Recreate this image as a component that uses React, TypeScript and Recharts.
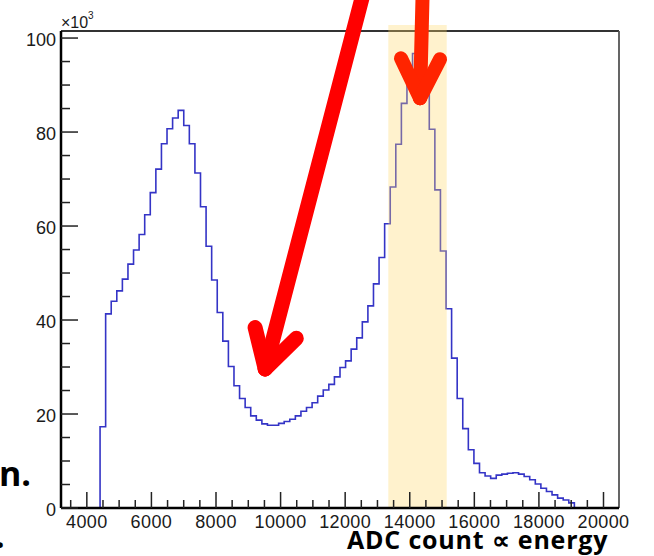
import { ComposedChart, Line, XAxis, YAxis, ReferenceArea, ReferenceLine } from "recharts";

// histogram binning (ADC counts)
const X_MIN = 3200;
const X_MAX = 20480;
const N_BINS = 100;
const FIRST_BIN = 7;
const Y_MAX = 101.5; // x10^3

// bin contents in units of 10^3, first entry is bin FIRST_BIN
const counts = [
  17.3, 41.3, 44.0, 46.2, 48.7, 51.9, 54.9, 58.2, 62.4, 67.1,
  72.1, 77.5, 80.7, 83.0, 84.6, 81.4, 77.5, 71.3, 64.1, 55.7,
  48.5, 41.6, 35.5, 30.1, 26.0, 23.3, 21.4, 19.6, 18.7, 17.9,
  17.6, 17.6, 18.0, 18.4, 18.9, 19.6, 20.6, 21.4, 22.4, 23.8,
  25.1, 26.3, 27.9, 29.9, 31.3, 33.8, 36.2, 39.6, 43.0, 47.7,
  53.3, 60.5, 68.3, 77.4, 86.1, 90.5, 96.7, 95.0, 91.0, 80.6,
  67.7, 54.7, 42.4, 31.9, 23.3, 16.9, 12.4, 9.5, 7.5, 6.8,
  6.3, 7.0, 7.2, 7.4, 7.5, 7.2, 6.7, 6.0, 5.1, 4.2,
  3.5, 2.8, 2.1, 1.7, 1.1,
];

const xTicks = [
  3500, 4000, 4500, 5000, 5500, 6000, 6500, 7000, 7500, 8000, 8500, 9000,
  9500, 10000, 10500, 11000, 11500, 12000, 12500, 13000, 13500, 14000, 14500,
  15000, 15500, 16000, 16500, 17000, 17500, 18000, 18500, 19000, 19500, 20000,
];
const xMajor = [4000, 6000, 8000, 10000, 12000, 14000, 16000, 18000, 20000];

const yTicks = [0, 5, 10, 15, 20, 25, 30, 35, 40, 45, 50, 55, 60, 65, 70, 75, 80, 85, 90, 95, 100];
const yMajor = [0, 20, 40, 60, 80, 100];

// highlighted photopeak window
const band = { x1: 13336, x2: 15145, y1: 0, y2: 102.8 };

// hand-drawn arrows (data coords): shaft start, tip, two wing ends
const arrowValley = [
  { x: 12586, y: 110.2 },
  { x: 9524, y: 29.6 },
  { x: 9211, y: 38.4 },
  { x: 10487, y: 36.1 },
];
const arrowPeak = [
  { x: 14401, y: 110.2 },
  { x: 14318, y: 87.2 },
  { x: 13729, y: 95.7 },
  { x: 14937, y: 95.5 },
];

const BIN_W = (X_MAX - X_MIN) / N_BINS;
const histData = [
  { x: X_MIN + FIRST_BIN * BIN_W, y: 0 },
  ...counts.map((c, k) => ({ x: X_MIN + (FIRST_BIN + k) * BIN_W, y: c })),
  { x: X_MIN + (FIRST_BIN + counts.length) * BIN_W, y: 0 },
];

const FONT = "'Liberation Sans', Arial, Helvetica, sans-serif";
const TICK_COLOR = "#222";

const XTick = (props: any) => {
  const { x, y, payload } = props;
  const major = xMajor.includes(payload.value);
  return (
    <g>
      <line x1={x} x2={x} y1={y} y2={y - (major ? 16 : 8)} stroke={TICK_COLOR} strokeWidth={1.5} />
      {major && (
        <text x={x} y={y + 19.5} textAnchor="middle" fontFamily={FONT} fontSize={18} letterSpacing={0.4} fill="#1a1a1a">
          {payload.value}
        </text>
      )}
    </g>
  );
};

const YTick = (props: any) => {
  const { x, y, payload } = props;
  const major = yMajor.includes(payload.value);
  return (
    <g>
      <line x1={x} x2={x + (major ? 17 : 9)} y1={y} y2={y} stroke={TICK_COLOR} strokeWidth={1.5} />
      {major && (
        <text x={x - 5} y={y + 7.5} textAnchor="end" fontFamily={FONT} fontSize={18} fill="#1a1a1a">
          {payload.value}
        </text>
      )}
    </g>
  );
};

export default function App() {
  const arrowLines = (pts: { x: number; y: number }[], color: string, w: number, key: string) =>
    [
      [pts[0], pts[1]],
      [pts[2], pts[1]],
      [pts[3], pts[1]],
    ].map((seg, i) => (
      <ReferenceLine
        key={`${key}-${i}`}
        segment={seg}
        stroke={color}
        strokeWidth={w}
        strokeLinecap="round"
        ifOverflow="visible"
        zIndex={1500}
      />
    ));

  return (
    <div style={{ position: "absolute", left: 0, top: 0, width: 654, height: 556, background: "#fff" }}>
      <ComposedChart
        width={654}
        height={556}
        data={histData}
        margin={{ top: 31, right: 35, left: 0, bottom: 0 }}
      >
        <XAxis
          dataKey="x"
          type="number"
          domain={[X_MIN, X_MAX]}
          allowDataOverflow
          ticks={xTicks}
          interval={0}
          height={48}
          tickSize={0}
          tickMargin={0}
          tickLine={false}
          tick={XTick}
          axisLine={{ stroke: "#000", strokeWidth: 2.5 }}
        />
        <YAxis
          type="number"
          domain={[0, Y_MAX]}
          allowDataOverflow
          ticks={yTicks}
          interval={0}
          width={61}
          tickSize={0}
          tickMargin={0}
          tickLine={false}
          tick={YTick}
          axisLine={{ stroke: "#000", strokeWidth: 2.5 }}
        />
        {/* frame top / right */}
        <ReferenceLine y={Y_MAX} stroke="#333" strokeWidth={1.8} ifOverflow="visible" />
        <ReferenceLine x={X_MAX} stroke="#555" strokeWidth={1.8} ifOverflow="visible" />
        <Line
          type="stepAfter"
          dataKey="y"
          stroke="#3434c6"
          strokeWidth={1.6}
          dot={false}
          activeDot={false}
          isAnimationActive={false}
        />
        <ReferenceArea
          x1={band.x1}
          x2={band.x2}
          y1={band.y1}
          y2={band.y2}
          fill="#ffd966"
          fillOpacity={0.33}
          stroke="none"
          ifOverflow="visible"
          zIndex={450}
        />
        {arrowLines(arrowValley, "#ff0000", 15, "valley")}
        {arrowLines(arrowPeak, "#ff2400", 14, "peak")}
      </ComposedChart>
      <svg
        width={654}
        height={556}
        style={{ position: "absolute", left: 0, top: 0, pointerEvents: "none" }}
      >
        <text x={61} y={28} fontFamily={FONT} fontSize={16} fill="#1a1a1a">
          ×10
        </text>
        <text x={88} y={19} fontFamily={FONT} fontSize={10} fill="#1a1a1a">
          3
        </text>
        <text x={-1} y={486} fontFamily="'Open Sans', sans-serif" fontWeight={700} fontSize={34} fill="#000">
          n.
        </text>
        <text x={-5} y={548} fontFamily="'Open Sans', sans-serif" fontWeight={700} fontSize={34} fill="#000">
          .
        </text>
        <text x={347} y={549} fontFamily="'Open Sans', sans-serif" fontWeight={700} fontSize={25} letterSpacing={0.8} fill="#000">
          ADC count ∝ energy
        </text>
      </svg>
    </div>
  );
}
